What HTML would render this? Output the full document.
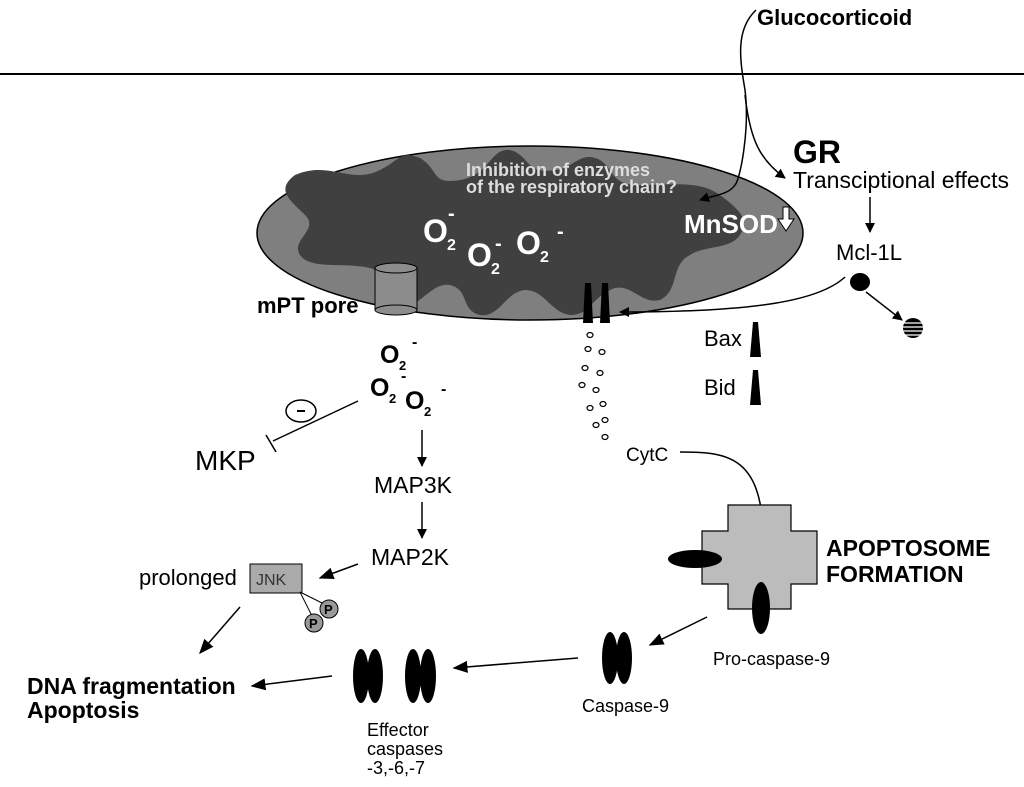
<!DOCTYPE html>
<html><head><meta charset="utf-8"><style>
body{margin:0;background:#fff}
svg{display:block}
text{font-family:"Liberation Sans",sans-serif}
</style></head><body>
<svg width="1024" height="787" viewBox="0 0 1024 787" xmlns="http://www.w3.org/2000/svg">
<defs>
<marker id="a" viewBox="0 0 10 10" refX="9" refY="5" markerWidth="10" markerHeight="10" orient="auto" markerUnits="userSpaceOnUse"><path d="M0,0L10,5L0,10z" fill="#000"/></marker>
<marker id="b" viewBox="0 0 10 10" refX="9" refY="5" markerWidth="15" markerHeight="15" orient="auto" markerUnits="userSpaceOnUse"><path d="M0,1L10,5L0,9z" fill="#000"/></marker>
</defs>
<rect width="1024" height="787" fill="#fff"/>
<line x1="0" y1="74" x2="1024" y2="74" stroke="#000" stroke-width="2"/>
<text x="757" y="25" font-size="22" font-weight="bold">Glucocorticoid</text>
<!-- mitochondrion -->
<ellipse cx="530" cy="233" rx="273" ry="87" fill="#7f7f7f" stroke="#000" stroke-width="1.5"/>
<path d="M295,175 C330,160 350,185 380,170 C400,160 400,150 420,158 C440,170 430,185 460,180 C490,175 490,148 510,150 C530,155 525,175 555,170 C575,168 580,150 600,160 C615,170 610,185 640,185 C670,185 700,180 720,195 C740,210 750,220 740,235 C730,250 705,245 690,255 C670,265 680,290 660,300 C640,305 630,280 610,290 C590,300 590,315 570,315 C550,312 545,290 525,290 C505,292 500,318 480,315 C460,310 470,290 450,285 C430,282 420,310 400,305 C385,300 395,275 370,268 C345,262 310,270 300,255 C290,240 320,230 305,215 C290,200 275,190 295,175Z" fill="#404040"/>
<text x="466" y="176" font-size="18" font-weight="bold" fill="#ddd">Inhibition of enzymes</text>
<text x="466" y="193" font-size="18" font-weight="bold" fill="#ddd">of the respiratory chain?</text>
<g fill="#fff" font-weight="bold">
<text x="423" y="242" font-size="32">O</text><text x="447" y="250" font-size="16">2</text><text x="448" y="220" font-size="20">-</text>
<text x="467" y="266" font-size="32">O</text><text x="491" y="274" font-size="16">2</text><text x="495" y="250" font-size="20">-</text>
<text x="516" y="254" font-size="32">O</text><text x="540" y="262" font-size="16">2</text><text x="557" y="238" font-size="20">-</text>
<text x="684" y="233" font-size="26">MnSOD</text>
</g>
<path d="M783,207h6v12h5l-8,12l-8,-12h5z" fill="#fff" stroke="#000"/>
<!-- glucocorticoid curves -->
<path d="M756,10 C735,30 740,60 745,90 C750,130 740,180 735,185 C728,195 715,195 700,200" fill="none" stroke="#000" stroke-width="1.5" marker-end="url(#a)"/>
<path d="M745,95 C750,140 760,160 785,178" fill="none" stroke="#000" stroke-width="1.5" marker-end="url(#a)"/>
<text x="793" y="163" font-size="32" font-weight="bold">GR</text>
<text x="793" y="188" font-size="23">Transciptional effects</text>
<line x1="870" y1="197" x2="870" y2="232" stroke="#000" stroke-width="1.5" marker-end="url(#a)"/>
<text x="836" y="260" font-size="22">Mcl-1L</text>
<ellipse cx="860" cy="282" rx="10" ry="9" fill="#000"/>
<line x1="866" y1="292" x2="902" y2="320" stroke="#000" stroke-width="1.5" marker-end="url(#a)"/>
<circle cx="913" cy="328" r="10" fill="#000"/>
<g stroke="#fff" stroke-width="1.3"><line x1="903" y1="323" x2="923" y2="323"/><line x1="903" y1="327" x2="923" y2="327"/><line x1="903" y1="331" x2="923" y2="331"/><line x1="904" y1="335" x2="922" y2="335"/></g>
<path d="M845,277 C820,300 760,312 620,312" fill="none" stroke="#000" stroke-width="1.5" marker-end="url(#a)"/>
<!-- bax pores in membrane -->
<path d="M585,283h6l2,40h-10z" fill="#000"/>
<path d="M602,283h6l2,40h-10z" fill="#000"/>
<text x="704" y="346" font-size="22">Bax</text><path d="M753,322h5l3,35h-11z" fill="#000"/>
<text x="704" y="395" font-size="22">Bid</text><path d="M753,370h5l3,35h-11z" fill="#000"/>
<!-- cyt c dots -->
<g fill="none" stroke="#000" stroke-width="1.2">
<ellipse cx="590" cy="335" rx="3" ry="2.5"/><ellipse cx="588" cy="349" rx="3" ry="2.5"/><ellipse cx="602" cy="352" rx="3" ry="2.5"/>
<ellipse cx="585" cy="368" rx="3" ry="2.5"/><ellipse cx="600" cy="373" rx="3" ry="2.5"/><ellipse cx="582" cy="385" rx="3" ry="2.5"/>
<ellipse cx="596" cy="390" rx="3" ry="2.5"/><ellipse cx="603" cy="404" rx="3" ry="2.5"/><ellipse cx="590" cy="408" rx="3" ry="2.5"/>
<ellipse cx="605" cy="420" rx="3" ry="2.5"/><ellipse cx="596" cy="425" rx="3" ry="2.5"/><ellipse cx="605" cy="437" rx="3" ry="2.5"/>
</g>
<text x="626" y="461" font-size="19">CytC</text>
<path d="M680,452 C725,452 760,455 763,530" fill="none" stroke="#000" stroke-width="1.5" marker-end="url(#a)"/>
<!-- mPT pore -->
<rect x="375" y="268" width="42" height="42" fill="#8c8c8c" stroke="#000"/>
<ellipse cx="396" cy="268" rx="21" ry="5" fill="#8c8c8c" stroke="#000"/>
<ellipse cx="396" cy="310" rx="21" ry="5" fill="#8c8c8c" stroke="#000"/>
<text x="257" y="313" font-size="22" font-weight="bold">mPT pore</text>
<!-- O2- outside -->
<g font-weight="bold">
<text x="380" y="363" font-size="25">O</text><text x="399" y="370" font-size="13">2</text><text x="412" y="347" font-size="16">-</text>
<text x="370" y="396" font-size="25">O</text><text x="389" y="403" font-size="13">2</text><text x="401" y="381" font-size="16">-</text>
<text x="405" y="409" font-size="25">O</text><text x="424" y="416" font-size="13">2</text><text x="441" y="394" font-size="16">-</text>
</g>
<line x1="358" y1="401" x2="273" y2="441" stroke="#000" stroke-width="1.5"/>
<line x1="266" y1="435" x2="276" y2="452" stroke="#000" stroke-width="1.5"/>
<ellipse cx="301" cy="411" rx="15" ry="11" fill="none" stroke="#000" stroke-width="1.5"/>
<line x1="297" y1="411" x2="305" y2="411" stroke="#000" stroke-width="2"/>
<text x="195" y="470" font-size="28">MKP</text>
<line x1="422" y1="430" x2="422" y2="466" stroke="#000" stroke-width="1.5" marker-end="url(#a)"/>
<text x="374" y="493" font-size="23">MAP3K</text>
<line x1="422" y1="502" x2="422" y2="538" stroke="#000" stroke-width="1.5" marker-end="url(#a)"/>
<text x="371" y="565" font-size="23">MAP2K</text>
<line x1="358" y1="564" x2="320" y2="578" stroke="#000" stroke-width="1.5" marker-end="url(#b)"/>
<text x="139" y="585" font-size="22">prolonged</text>
<rect x="250" y="564" width="52" height="29" fill="#aaa" stroke="#000"/>
<text x="256" y="585" font-size="16" fill="#333">JNK</text>
<line x1="300" y1="592" x2="326" y2="605" stroke="#000"/>
<line x1="300" y1="592" x2="312" y2="616" stroke="#000"/>
<circle cx="329" cy="609" r="9" fill="#999" stroke="#000"/><text x="324" y="614" font-size="13" font-weight="bold">P</text>
<circle cx="314" cy="623" r="9" fill="#999" stroke="#000"/><text x="309" y="628" font-size="13" font-weight="bold">P</text>
<line x1="240" y1="607" x2="200" y2="653" stroke="#000" stroke-width="1.5" marker-end="url(#b)"/>
<text x="27" y="694" font-size="23" font-weight="bold">DNA fragmentation</text>
<text x="27" y="718" font-size="23" font-weight="bold">Apoptosis</text>
<line x1="332" y1="676" x2="252" y2="686" stroke="#000" stroke-width="1.5" marker-end="url(#b)"/>
<!-- effector caspases -->
<ellipse cx="361" cy="676" rx="8" ry="27" fill="#000"/><ellipse cx="375" cy="676" rx="8" ry="27" fill="#000"/>
<ellipse cx="413" cy="676" rx="8" ry="27" fill="#000"/><ellipse cx="428" cy="676" rx="8" ry="27" fill="#000"/>
<text x="367" y="736" font-size="18">Effector</text>
<text x="367" y="755" font-size="18">caspases</text>
<text x="367" y="774" font-size="18">-3,-6,-7</text>
<line x1="578" y1="658" x2="454" y2="668" stroke="#000" stroke-width="1.5" marker-end="url(#b)"/>
<ellipse cx="610" cy="658" rx="8" ry="26" fill="#000"/><ellipse cx="624" cy="658" rx="8" ry="26" fill="#000"/>
<text x="582" y="712" font-size="18">Caspase-9</text>
<line x1="707" y1="617" x2="650" y2="645" stroke="#000" stroke-width="1.5" marker-end="url(#b)"/>
<!-- apoptosome -->
<path d="M728,505h63v26h26v53h-26v25h-63v-25h-26v-53h26z" fill="#bcbcbc" stroke="#000" stroke-width="1.2"/>
<ellipse cx="695" cy="559" rx="27" ry="9" fill="#000"/>
<ellipse cx="761" cy="608" rx="9" ry="26" fill="#000"/>
<text x="826" y="556" font-size="23" font-weight="bold">APOPTOSOME</text>
<text x="826" y="582" font-size="23" font-weight="bold">FORMATION</text>
<text x="713" y="665" font-size="18">Pro-caspase-9</text>
</svg>
</body></html>
